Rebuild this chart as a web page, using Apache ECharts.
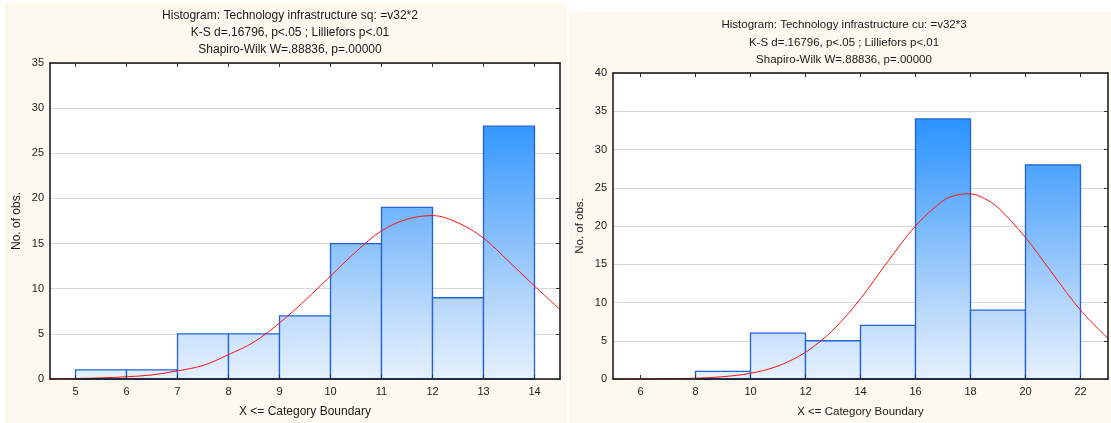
<!DOCTYPE html>
<html>
<head>
<meta charset="utf-8">
<script src="https://cdn.jsdelivr.net/npm/echarts@6/dist/echarts.min.js"></script>
<style>
html,body{margin:0;padding:0;background:#ffffff;}
#chart{width:1111px;height:423px;}
</style>
</head>
<body>
<div id="chart"></div>
<script>
// ---------- data ----------
const leftTitle = ["Histogram: Technology infrastructure sq: =v32*2",
                   "K-S d=.16796, p<.05 ; Lilliefors p<.01",
                   "Shapiro-Wilk W=.88836, p=.00000"];
const rightTitle = ["Histogram: Technology infrastructure cu: =v32*3",
                    "K-S d=.16796, p<.05 ; Lilliefors p<.01",
                    "Shapiro-Wilk W=.88836, p=.00000"];
const xAxisName = "X <= Category Boundary";
const yAxisName = "No. of obs.";

// left histogram: bin upper bounds and counts
const leftEdges  = [5, 6, 7, 8, 9, 10, 11, 12, 13, 14];
const leftCounts = [1, 1, 5, 5, 7, 15, 19, 9, 28];
const leftXTicks = [5, 6, 7, 8, 9, 10, 11, 12, 13, 14];
// fitted normal curve
const leftCurveX = [4.5, 5, 5.5, 6, 6.5, 7, 7.5, 8, 8.5, 9, 9.5, 10, 10.5, 11, 11.5, 12, 12.5, 13, 13.5, 14, 14.5];
const leftCurveY = [0.02, 0.05, 0.12, 0.25, 0.45, 0.9, 1.5, 2.7, 4.1, 6.2, 8.7, 11.4, 14.1, 16.4, 17.7, 18.1, 17.3, 15.6, 13.0, 10.3, 7.7];

// right histogram
const rightEdges  = [6, 8, 10, 12, 14, 16, 18, 20, 22];
const rightCounts = [0, 1, 6, 5, 7, 34, 9, 28];
const rightXTicks = [6, 8, 10, 12, 14, 16, 18, 20, 22];
const rightCurveX = [5, 6, 7, 8, 9, 10, 11, 12, 13, 14, 15, 16, 17, 17.5, 18, 18.5, 19, 20, 21, 22, 23];
const rightCurveY = [0.0, 0.01, 0.03, 0.1, 0.3, 0.75, 1.7, 3.5, 6.4, 10.5, 15.4, 20.0, 23.3, 24.05, 24.2, 23.6, 22.4, 18.5, 13.7, 9.0, 5.3];

// ---------- build ----------
function bins(edges, counts) {
  return counts.map((c, i) => [edges[i], edges[i + 1], c]);
}
function pairs(xs, ys) { return xs.map((x, i) => [x, ys[i]]); }

const FONT = "'Liberation Sans', Arial, sans-serif";
const TXT = '#1a1a1a';
const stops = [
  {offset: 0, color: '#1683ff'},
  {offset: 0.2, color: '#3498ff'},
  {offset: 0.5, color: '#7ab9fb'},
  {offset: 0.75, color: '#b4d6fb'},
  {offset: 1, color: '#e6f1fd'}
];

function makeRender(yMax) {
  return function (params, api) {
    const x0 = api.value(0), x1 = api.value(1), c = api.value(2);
    if (!c) return null;
    const p0 = api.coord([x0, c]);
    const p1 = api.coord([x1, 0]);
    const top = api.coord([x0, yMax])[1];
    const bot = p1[1];
    return {
      type: 'rect',
      shape: {x: p0[0], y: p0[1], width: p1[0] - p0[0], height: p1[1] - p0[1]},
      style: {
        fill: new echarts.graphic.LinearGradient(0, top, 0, bot, stops, true),
        stroke: '#2262d6', lineWidth: 1.3
      }
    };
  };
}

function xBottom(grid, min, max, ticks, nameSize) {
  return {
    type: 'value', gridIndex: grid, position: 'bottom', min: min, max: max, z: 10,
    name: xAxisName, nameLocation: 'middle', nameGap: 27,
    nameTextStyle: {fontSize: nameSize, fontFamily: FONT, color: TXT},
    axisLine: {show: true, onZero: false, lineStyle: {color: '#111', width: 1.5}},
    axisTick: {show: true, inside: true, length: 4, customValues: ticks, lineStyle: {color: '#333'}},
    axisLabel: {show: true, customValues: ticks, margin: 7, fontSize: 11, fontFamily: FONT, color: TXT},
    splitLine: {show: false}
  };
}
function xTop(grid, min, max, ticks) {
  return {
    type: 'value', gridIndex: grid, position: 'top', min: min, max: max, z: 10,
    axisLine: {show: true, onZero: false, lineStyle: {color: '#111', width: 1.5}},
    axisTick: {show: true, inside: true, length: 4, customValues: ticks, lineStyle: {color: '#333'}},
    axisLabel: {show: false},
    splitLine: {show: false}
  };
}
function yLeft(grid, max, nameSize) {
  return {
    type: 'value', gridIndex: grid, position: 'left', min: 0, max: max, interval: 5, z: 10,
    name: yAxisName, nameLocation: 'middle', nameGap: 27,
    nameTextStyle: {fontSize: nameSize, fontFamily: FONT, color: TXT},
    axisLine: {show: true, onZero: false, lineStyle: {color: '#111', width: 1.5}},
    axisTick: {show: false},
    axisLabel: {show: true, margin: 6, fontSize: 11, fontFamily: FONT, color: TXT},
    splitLine: {show: false}
  };
}
function yRight(grid, max) {
  return {
    type: 'value', gridIndex: grid, position: 'right', min: 0, max: max, interval: 5, z: 10,
    axisLine: {show: true, onZero: false, lineStyle: {color: '#111', width: 1.5}},
    axisTick: {show: true, inside: true, length: 4, lineStyle: {color: '#333'}},
    axisLabel: {show: false},
    splitLine: {show: false}
  };
}
function ySplit(grid, max) {
  return {
    type: 'value', gridIndex: grid, position: 'left', min: 0, max: max, interval: 5, z: 0,
    axisLine: {show: false}, axisTick: {show: false}, axisLabel: {show: false},
    splitLine: {show: true, lineStyle: {color: '#d8d8d8', width: 1}}
  };
}

function titleTexts(lines, cx, ys, size) {
  return lines.map((t, i) => ({
    type: 'text', z: 5,
    style: {text: t, x: cx, y: ys[i], align: 'center', verticalAlign: 'middle',
            font: size + 'px ' + FONT, fill: TXT}
  }));
}

const chart = echarts.init(document.getElementById('chart'), null, {renderer: 'canvas'});
chart.setOption({
  animation: false,
  backgroundColor: '#ffffff',
  graphic: {
    elements: [
      {type: 'rect', z: -100, shape: {x: 5, y: 2, width: 562, height: 421}, style: {fill: '#fdf9ef'}},
      {type: 'rect', z: -100, shape: {x: 569, y: 12, width: 542, height: 411}, style: {fill: '#fdf9ef'}}
    ].concat(titleTexts(leftTitle, 290, [16, 32.7, 49.3], 12))
     .concat(titleTexts(rightTitle, 844, [25.3, 42.6, 59.9], 11.5))
  },
  grid: [
    {left: 50, top: 63, width: 510, height: 316.3, show: true, backgroundColor: '#ffffff', borderWidth: 0},
    {left: 613, top: 73, width: 495, height: 306.3, show: true, backgroundColor: '#ffffff', borderWidth: 0}
  ],
  xAxis: [
    xBottom(0, 4.5, 14.5, leftXTicks, 12),
    xTop(0, 4.5, 14.5, leftXTicks),
    xBottom(1, 5, 23, rightXTicks, 11.5),
    xTop(1, 5, 23, rightXTicks)
  ],
  yAxis: [
    yLeft(0, 35, 12), yRight(0, 35), ySplit(0, 35),
    yLeft(1, 40, 11.5), yRight(1, 40), ySplit(1, 40)
  ],
  series: [
    {type: 'custom', xAxisIndex: 0, yAxisIndex: 0, z: 3, renderItem: makeRender(35),
     encode: {x: [0, 1], y: 2}, data: bins(leftEdges, leftCounts)},
    {type: 'line', xAxisIndex: 0, yAxisIndex: 0, z: 4, smooth: 0.35, showSymbol: false, symbol: 'none',
     lineStyle: {color: '#ff1010', width: 1}, data: pairs(leftCurveX, leftCurveY)},
    {type: 'custom', xAxisIndex: 2, yAxisIndex: 3, z: 3, renderItem: makeRender(40),
     encode: {x: [0, 1], y: 2}, data: bins(rightEdges, rightCounts)},
    {type: 'line', xAxisIndex: 2, yAxisIndex: 3, z: 4, smooth: 0.35, showSymbol: false, symbol: 'none',
     lineStyle: {color: '#ff1010', width: 1}, data: pairs(rightCurveX, rightCurveY)}
  ]
});
</script>
</body>
</html>
